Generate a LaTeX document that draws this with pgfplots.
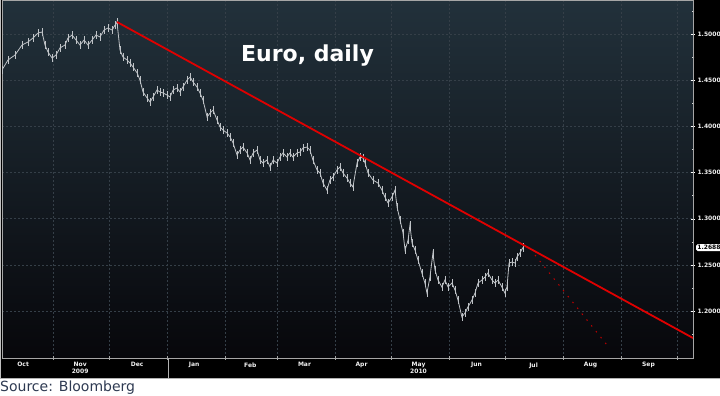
\documentclass[border=0pt]{standalone}
\usepackage{fontspec}
\setmainfont{DejaVu Sans}
\usepackage{pgfplots}
\pgfplotsset{compat=1.18}
\definecolor{bgtop}{HTML}{22313B}
\definecolor{bgmid}{HTML}{191D22}
\definecolor{bgbot}{HTML}{07070B}
\definecolor{gridc}{HTML}{353F48}
\definecolor{pricec}{HTML}{BFC3C7}
\definecolor{srcc}{HTML}{2E3A52}
\definecolor{trend}{HTML}{E00000}
\begin{document}
\begin{tikzpicture}[x=1pt,y=1pt]
\useasboundingbox (0,0) rectangle (720,396);
\fill[white] (0,0) rectangle (720,396);
\fill[black] (0,18) rectangle (720,396);
\draw[gray!60, line width=0.8] (0,18) -- (720,18);
\draw[gray!50, line width=1] (0.5,18) -- (0.5,396);
\begin{axis}[
  at={(2pt,38pt)}, anchor=south west,
  scale only axis, width=691pt, height=358pt,
  xmin=3.7, xmax=373.3, ymin=1.1493, ymax=1.5366,
  axis background/.style={top color=bgtop, middle color=bgmid, bottom color=bgbot},
  axis line style={gray!70},
  xtick={31,61,92,123,151,182,212,243,273,304,335,365},
  xticklabels={},
  extra x ticks={15,45.5,76,106.5,136.5,165.5,196,226.5,257.5,288,318.5,349.5},
  extra x tick labels={Oct,Nov\\2009,Dec,Jan,Feb,Mar,Apr,May\\2010,Jun,Jul,Aug,Sep},
  extra x tick style={grid=none, major tick length=0pt},
  xtick pos=lower,
  x tick style={gray!70},
  tick align=center, major tick length=4pt,
  x tick label style={font=\fontsize{6}{7}\selectfont\bfseries, text=white!90!gray, align=center, yshift=-1pt},
  ytick={1.2,1.25,1.3,1.35,1.4,1.45,1.5},
  minor ytick={1.175,1.225,1.275,1.325,1.375,1.425,1.475,1.525},
  ytick pos=upper, yticklabel pos=upper,
  y tick style={white},
  minor y tick style={white!70!gray},
  minor tick length=2.5pt,
  y tick label style={font=\fontsize{6}{7}\selectfont\bfseries, text=white!90!gray, xshift=-1pt,
    /pgf/number format/.cd, fixed, fixed zerofill, precision=4, assume math mode=true},
  xmajorgrids, ymajorgrids,
  major grid style={gridc, dash pattern=on 2pt off 2pt, line width=0.6pt},
]
\addplot[pricec, line width=0.8pt, error bars/.cd, y dir=both, y fixed=0.0045, error mark=none,
  error bar style={pricec, line width=0.6pt}] coordinates {
(3.7,1.4609) (6.9,1.4717) (10.7,1.4771) (14.4,1.4879) (17.6,1.4912) (20.3,1.4955)
(23.0,1.5009) (25.1,1.5020) (26.7,1.4879) (28.3,1.4803) (30.5,1.4738) (32.6,1.4771)
(34.7,1.4847) (37.4,1.4879) (39.0,1.4955) (41.2,1.4987) (43.3,1.4933) (45.4,1.4879)
(47.6,1.4933) (49.7,1.4879) (51.9,1.4933) (54.0,1.4987) (56.1,1.4966) (58.3,1.5041)
(60.4,1.5063) (62.6,1.5041) (64.2,1.5096) (65.2,1.5128) (66.8,1.4825) (68.4,1.4749)
(70.6,1.4717) (72.2,1.4684) (73.8,1.4641) (76.0,1.4576) (77.5,1.4500) (79.1,1.4371)
(81.3,1.4306) (82.9,1.4262) (84.5,1.4316) (86.6,1.4392) (88.2,1.4371) (89.8,1.4360)
(92.0,1.4338) (93.6,1.4316) (95.2,1.4392) (97.3,1.4414) (98.9,1.4371) (100.5,1.4425)
(102.7,1.4500) (104.3,1.4533) (105.9,1.4479) (108.0,1.4425) (109.6,1.4360) (111.2,1.4284)
(113.4,1.4100) (115.0,1.4143) (116.6,1.4176) (118.7,1.4068) (120.3,1.3992) (121.9,1.3959)
(124.1,1.3927) (125.7,1.3884) (127.3,1.3819) (129.4,1.3689) (131.0,1.3743) (132.6,1.3775)
(134.8,1.3711) (136.4,1.3635) (138.0,1.3711) (140.1,1.3743) (141.7,1.3635) (143.3,1.3602)
(145.4,1.3635) (147.1,1.3559) (148.7,1.3635) (150.8,1.3602) (152.4,1.3667) (154.0,1.3711)
(156.1,1.3667) (157.7,1.3711) (159.3,1.3667) (161.5,1.3711) (163.1,1.3721) (164.7,1.3765)
(166.8,1.3775) (168.4,1.3743) (170.0,1.3635) (172.2,1.3527) (173.8,1.3494) (175.4,1.3386)
(177.5,1.3310) (179.1,1.3418) (180.7,1.3451) (182.9,1.3527) (184.5,1.3559) (186.1,1.3494)
(188.2,1.3440) (189.8,1.3386) (191.4,1.3343) (193.6,1.3602) (195.2,1.3667) (196.8,1.3656)
(197.9,1.3602) (199.5,1.3494) (202.1,1.3418) (204.8,1.3386) (206.9,1.3310) (208.5,1.3234)
(210.2,1.3170) (212.3,1.3234) (213.9,1.3310) (215.0,1.3126) (216.6,1.2986) (218.2,1.2845)
(219.3,1.2661) (220.9,1.2769) (221.9,1.2931) (223.0,1.2737) (224.6,1.2661) (226.2,1.2553)
(228.3,1.2412) (229.9,1.2304) (231.0,1.2196) (232.6,1.2369) (234.2,1.2628) (235.3,1.2444)
(236.9,1.2336) (239.0,1.2261) (240.6,1.2336) (242.3,1.2261) (244.4,1.2304) (246.0,1.2228)
(247.6,1.2120) (249.7,1.1936) (251.3,1.1979) (252.9,1.2044) (255.1,1.2120) (256.7,1.2196)
(258.3,1.2304) (260.4,1.2336) (262.0,1.2369) (263.6,1.2412) (265.8,1.2336) (267.4,1.2304)
(269.0,1.2336) (271.1,1.2261) (272.7,1.2196) (273.8,1.2261) (274.9,1.2520) (276.5,1.2531)
(278.1,1.2520) (279.1,1.2585) (280.7,1.2628) (282.3,1.2688)
};
\addplot[trend, line width=1.8pt] coordinates {(65.2,1.5128) (373.3,1.1709)};
\addplot[trend!85!black, line width=1pt, dash pattern=on 1.5pt off 6pt] coordinates {(288.8,1.2607) (327.3,1.1633)};
\coordinate (lp) at (axis cs:373.3,1.2688);
\end{axis}
\node[fill=white, rounded corners=1.5pt, inner sep=1.2pt, anchor=west, font=\fontsize{6}{6}\selectfont\bfseries, text=black] at ([xshift=3pt]lp) {1.2688};
\draw[gray!60] (168,18) -- (168,38);
\node[anchor=base, inner sep=0, font=\fontsize{22}{22}\selectfont\bfseries, text=white] at (307.5,334) {Euro, daily};
\node[anchor=base west, inner sep=0, font=\fontsize{14}{14}\selectfont, text=srcc] at (0,4.5) {Source: Bloomberg};
\end{tikzpicture}
\end{document}
